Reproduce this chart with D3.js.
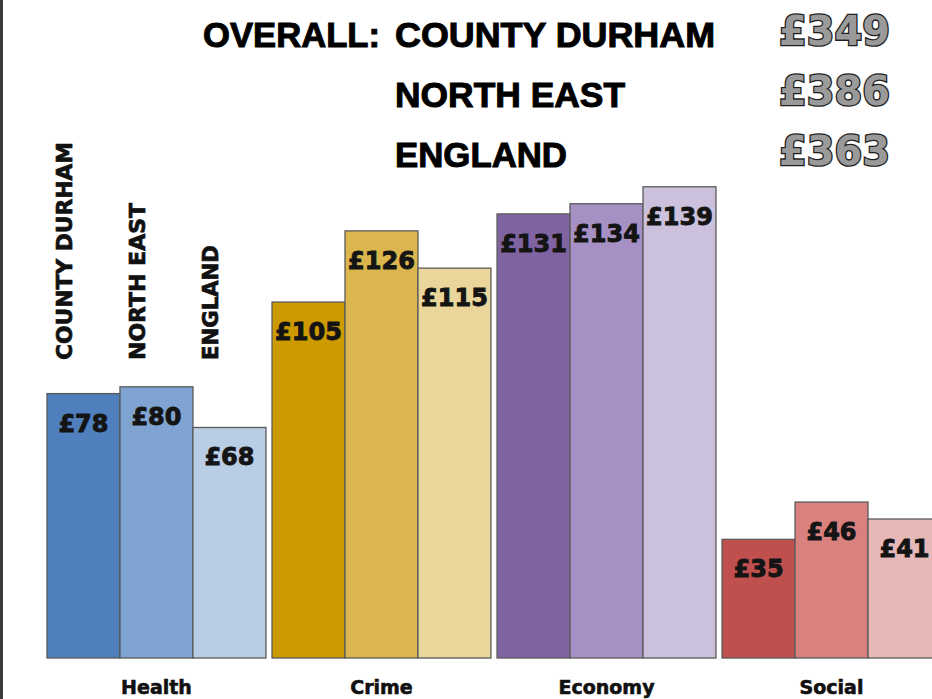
<!DOCTYPE html>
<html>
<head>
<meta charset="utf-8">
<script src="https://cdn.jsdelivr.net/npm/d3@7"></script>
<style>
  html, body { margin: 0; padding: 0; background: #ffffff; }
  svg { display: block; }
</style>
</head>
<body>
<script>
// ---- data ----
const categories = ["Health", "Crime", "Economy", "Social"];
const areas = ["COUNTY DURHAM", "NORTH EAST", "ENGLAND"];
const countyDurham = [78, 105, 131, 35];
const northEast = [80, 126, 134, 46];
const england = [68, 115, 139, 41];
const overallAreas = ["COUNTY DURHAM", "NORTH EAST", "ENGLAND"];
const overallValues = [349, 386, 363];

const seriesValues = [countyDurham, northEast, england];

// ---- styles ----
const palette = {
  Health:  ["#4f80bd", "#80a4d1", "#b9cde5"],
  Crime:   ["#cd9a02", "#dbb64e", "#ead59a"],
  Economy: ["#8064a2", "#a690c4", "#ccc1dd"],
  Social:  ["#c0504d", "#d8817f", "#e6b9b8"]
};

const W = 932, H = 699;
const svg = d3.select("body").append("svg").attr("width", W).attr("height", H);

// left border line
svg.append("rect").attr("x", 0).attr("y", 0).attr("width", 3).attr("height", H).attr("fill", "#3a3a3a");

const x0 = d3.scaleBand().domain(categories).range([47, 941]).paddingInner(0.027).paddingOuter(0);
const x1 = d3.scaleBand().domain(areas).range([0, x0.bandwidth()]).padding(0);
const y = d3.scaleLinear().domain([0, 140]).range([658, 658 - 140 * 3.39]);

const rows = [];
categories.forEach((c, ci) => {
  areas.forEach((a, ai) => {
    rows.push({ cat: c, area: a, value: seriesValues[ai][ci], color: palette[c][ai] });
  });
});

const g = svg.append("g");
g.selectAll("rect.bar").data(rows).join("rect")
  .attr("class", "bar")
  .attr("x", d => x0(d.cat) + x1(d.area))
  .attr("y", d => y(d.value))
  .attr("width", x1.bandwidth())
  .attr("height", d => y(0) - y(d.value))
  .attr("fill", d => d.color)
  .attr("stroke", "#5a5a5a")
  .attr("stroke-width", 1.3);

g.selectAll("text.val").data(rows).join("text")
  .attr("class", "val")
  .attr("x", d => x0(d.cat) + x1(d.area) + x1.bandwidth() / 2)
  .attr("y", d => y(d.value) + 38)
  .attr("text-anchor", "middle")
  .attr("font-family", "DejaVu Sans")
  .attr("font-weight", "bold")
  .attr("font-size", 24)
  .attr("fill", "#141414")
  .attr("stroke", "#141414")
  .attr("stroke-width", 0.9)
  .text(d => "£" + d.value);

// category labels
svg.selectAll("text.cat").data(categories).join("text")
  .attr("class", "cat")
  .attr("x", d => x0(d) + x0.bandwidth() / 2)
  .attr("y", 694)
  .attr("text-anchor", "middle")
  .attr("font-family", "DejaVu Sans")
  .attr("font-weight", "bold")
  .attr("font-size", 19)
  .attr("fill", "#111")
  .attr("stroke", "#111")
  .attr("stroke-width", 0.6)
  .text(d => d);

// vertical area labels above Health bars
const vLen = [218, 157, 115];
svg.selectAll("text.area").data(areas).join("text")
  .attr("class", "area")
  .attr("transform", (d, i) => `translate(${x0(categories[0]) + x1(d) + x1.bandwidth() / 2 - 11},360) rotate(-90)`)
  .attr("text-anchor", "start")
  .attr("font-family", "DejaVu Sans")
  .attr("font-weight", "bold")
  .attr("font-size", 21)
  .attr("fill", "#111")
  .attr("stroke", "#111")
  .attr("stroke-width", 0.7)
  .attr("textLength", (d, i) => vLen[i])
  .attr("lengthAdjust", "spacingAndGlyphs")
  .text(d => d);

// header
const headY = [47, 107, 167];
svg.append("text")
  .attr("x", 203).attr("y", headY[0])
  .attr("font-family", "Liberation Sans, Arial, sans-serif")
  .attr("font-weight", "bold")
  .attr("font-size", 35)
  .attr("fill", "#000")
  .attr("stroke", "#000")
  .attr("stroke-width", 1)
  .attr("textLength", 177)
  .attr("lengthAdjust", "spacingAndGlyphs")
  .text("OVERALL:");

const headLen = [320, 230, 172];
svg.selectAll("text.head").data(overallAreas).join("text")
  .attr("class", "head")
  .attr("x", 395)
  .attr("y", (d, i) => headY[i])
  .attr("font-family", "Liberation Sans, Arial, sans-serif")
  .attr("font-weight", "bold")
  .attr("font-size", 35)
  .attr("fill", "#000")
  .attr("stroke", "#000")
  .attr("stroke-width", 1)
  .attr("textLength", (d, i) => headLen[i])
  .attr("lengthAdjust", "spacingAndGlyphs")
  .text(d => d);

svg.selectAll("text.tot").data(overallValues).join("text")
  .attr("class", "tot")
  .attr("x", 779)
  .attr("y", (d, i) => headY[i] - 2)
  .attr("font-family", "DejaVu Sans")
  .attr("font-weight", "bold")
  .attr("font-size", 41)
  .attr("fill", "#9a9a9a")
  .attr("stroke", "#1e1e1e")
  .attr("stroke-width", 2.6)
  .attr("paint-order", "stroke")
  .attr("textLength", 111)
  .attr("lengthAdjust", "spacingAndGlyphs")
  .text(d => "£" + d);
</script>
</body>
</html>
